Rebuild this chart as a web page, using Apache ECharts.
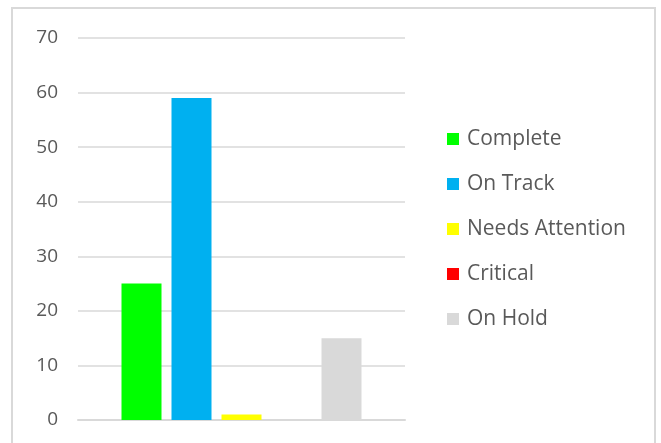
<!DOCTYPE html>
<html>
<head>
<meta charset="utf-8">
<script src="https://cdn.jsdelivr.net/npm/echarts@6/dist/echarts.min.js"></script>
<style>
  html, body { margin: 0; padding: 0; background: #fff; }
  #chart { width: 661px; height: 443px; }
</style>
</head>
<body>
<div id="chart"></div>
<script>
// Project status counts
const statusNames = ['Complete', 'On Track', 'Needs Attention', 'Critical', 'On Hold'];
const statusCounts = [25, 59, 1, 0, 15];
const statusColors = ['#00ff00', '#00b0f0', '#ffff00', '#ff0000', '#d9d9d9'];
const yTicks = { min: 0, max: 70, step: 10 };

const chart = echarts.init(document.getElementById('chart'), null, { renderer: 'canvas' });

const series = statusNames.map((name, i) => ({
  name: name,
  type: 'bar',
  data: [statusCounts[i]],
  barWidth: 40,
  barGap: '25%',
  itemStyle: { color: statusColors[i] },
  emphasis: { disabled: true }
}));

chart.setOption({
  animation: false,
  backgroundColor: '#ffffff',
  textStyle: { fontFamily: 'Open Sans' },
  graphic: [{
    type: 'rect',
    shape: { x: 12, y: 8, width: 643, height: 460 },
    style: { fill: 'none', stroke: '#d9d9d9', lineWidth: 2 },
    silent: true
  }],
  grid: { left: 78, right: 256, top: 38, bottom: 23 },
  xAxis: {
    type: 'category',
    data: [''],
    axisLine: { show: true, lineStyle: { color: '#d9d9d9', width: 2 } },
    axisTick: { show: false },
    axisLabel: { show: false }
  },
  yAxis: {
    type: 'value',
    min: yTicks.min,
    max: yTicks.max,
    interval: yTicks.step,
    axisLine: { show: false },
    axisTick: { show: false },
    axisLabel: { color: '#595959', fontSize: 19, margin: 20, fontFamily: 'Open Sans' },
    splitLine: { lineStyle: { color: '#d9d9d9', width: 1.5 } }
  },
  legend: {
    orient: 'vertical',
    left: 442,
    top: 123,
    icon: 'rect',
    itemWidth: 12,
    itemHeight: 12,
    itemGap: 23,
    selectedMode: false,
    textStyle: { color: '#595959', fontSize: 21, lineHeight: 22, fontFamily: 'Open Sans', padding: [0, 0, 0, 3] },
    data: statusNames
  },
  series: series
});
</script>
</body>
</html>
